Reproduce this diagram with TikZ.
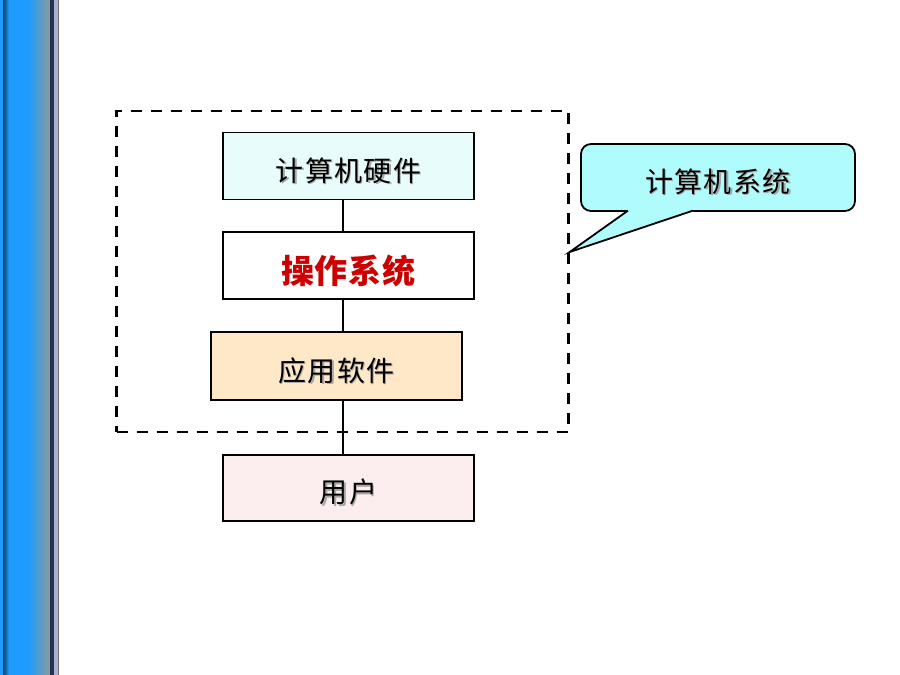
\documentclass[tikz,border=0pt]{standalone}
\usepackage{fontspec}
\setmainfont{Noto Sans CJK SC}
\usetikzlibrary{calc}
\definecolor{barblue}{HTML}{1E9BFF}
\definecolor{bardark}{HTML}{27324A}
\definecolor{bargray}{HTML}{8C9A9C}
\definecolor{barlav}{HTML}{A8B0D8}
\definecolor{hwfill}{HTML}{E8FCFC}
\definecolor{appfill}{HTML}{FFE8C8}
\definecolor{userfill}{HTML}{FCEEEE}
\definecolor{callfill}{HTML}{B0FCFC}
\definecolor{osred}{HTML}{CC0000}
% set text a little low in its box
\newcommand{\lowtxt}[1]{\raisebox{-5pt}[\height][\depth]{#1}}
% text with a light grey drop shadow
\newcommand{\shtxt}[1]{\lowtxt{\makebox[0pt][l]{\hspace{1.3pt}\raisebox{-1.3pt}{\textcolor{black!35}{#1}}}#1}}
\tikzset{
  layer/.style={draw,line width=1.8pt,minimum width=251,minimum height=67,inner sep=0pt,
    font=\fontsize{28}{30}\selectfont\addfontfeature{LetterSpace=5}},
  sysbox/.style={draw,dashed,line width=2.4pt,dash pattern=on 11pt off 9pt,minimum width=452,minimum height=321},
  spine/.style={line width=1.8pt}
}
\begin{document}
\begin{tikzpicture}[x=1pt,y=-1pt]
\useasboundingbox (0,0) rectangle (900,675);

% left bar
\fill[barblue] (0,0) rectangle (3,675);
\shade[left color=barblue!40!black,right color=barblue] (3,0) rectangle (9,675);
\fill[barblue] (9,0) rectangle (28,675);
\shade[left color=barblue,right color=bargray] (28,0) rectangle (50,675);
\fill[bardark] (50,0) rectangle (54,675);
\fill[barlav] (54,0) rectangle (58,675);
\fill[black!55] (58,0) rectangle (59,675);

\coordinate (axis) at (343,0);

\node[layer,fill=hwfill] (hw) at (348.5,166) {\shtxt{计算机硬件}};
\node[layer,fill=white,font=\fontsize{33}{36}\selectfont\bfseries\addfontfeature{LetterSpace=3},text=osred] (os) at (348.5,265.5) {\lowtxt{操作系统}};
\node[layer,fill=appfill,minimum height=68] (app) at (336.5,366) {\shtxt{应用软件}};
\node[layer,fill=userfill,minimum height=66] (user) at (348.5,488) {\shtxt{用户}};

\draw[spine] (hw.south -| axis) -- (os.north -| axis);
\draw[spine] (os.south -| axis) -- (app.north -| axis);
\draw[spine] (app.south -| axis) -- (user.north -| axis);

\node[sysbox] (sys) at (342.5,271.5) {};

% callout
\node[draw,line width=1.8pt,fill=callfill,rounded corners=10pt,minimum width=274,minimum height=67,
  font=\fontsize{28}{30}\selectfont\addfontfeature{LetterSpace=5}] (call) at (718,177.5) {\shtxt{计算机系统}};
\coordinate (tip) at (sys.east |- 0,252);
\fill[callfill] (628,209) -- (628,211.5) -- (tip) -- (693,211.5) -- (693,209) -- cycle;
\draw[line width=1.8pt,line join=miter] (628,210.6) -- (tip) -- (693,210.6);

\end{tikzpicture}
\end{document}
